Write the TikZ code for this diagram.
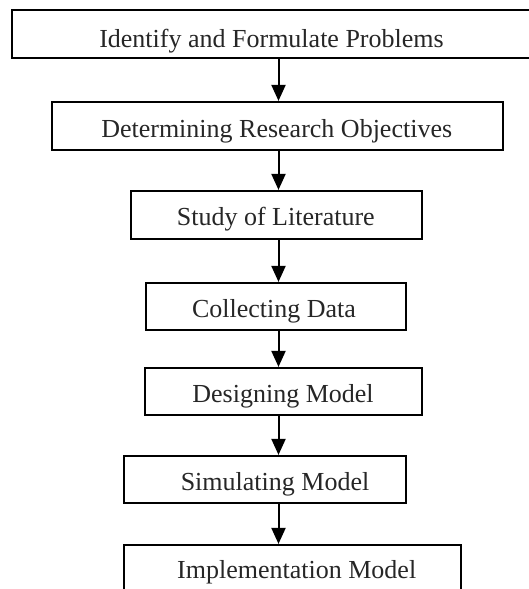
\documentclass[tikz,border=0pt]{standalone}
\usepackage{fontspec}
\setmainfont{Liberation Serif}
\usetikzlibrary{arrows.meta}
\begin{document}
\begin{tikzpicture}[x=1pt,y=-1pt,
  stepbox/.style={draw=black, line width=2.2pt, rectangle, inner sep=0pt},
  txt/.style={anchor=base, inner sep=0pt, font=\fontsize{26}{30}\selectfont, text=black!85},
  arr/.style={line width=2pt, -{Triangle[length=16pt,width=14pt]}}]
\useasboundingbox (0,0) rectangle (529,589);
% boxes: centre and size from left/top/right/bottom
\node[stepbox, minimum width=520pt, minimum height=48pt] (b1) at (272,34) {};
\node[stepbox, minimum width=451pt, minimum height=48pt] (b2) at (277.5,126) {};
\node[stepbox, minimum width=291pt, minimum height=48pt] (b3) at (276.5,215) {};
\node[stepbox, minimum width=260pt, minimum height=47pt] (b4) at (276,306.5) {};
\node[stepbox, minimum width=277pt, minimum height=47pt] (b5) at (283.5,391.5) {};
\node[stepbox, minimum width=282pt, minimum height=47pt] (b6) at (265,479.5) {};
\node[stepbox, minimum width=337pt, minimum height=60pt] (b7) at (292.5,575) {};
% texts
\node[txt] (t1) at (271.5,47) {Identify and Formulate Problems};
\node[txt] (t2) at (276.7,137) {Determining Research Objectives};
\node[txt] (t3) at (275.8,225) {Study of Literature};
\node[txt] (t4) at (274,317) {Collecting Data};
\node[txt] (t5) at (283,402) {Designing Model};
\node[txt] (t6) at (275,490) {Simulating Model};
\node[txt] (t7) at (296.7,578) {Implementation Model};
% arrows
\coordinate (ax) at (278.5,0);
\draw[arr] (b1.south -| ax) -- (b2.north -| ax);
\draw[arr] (b2.south -| ax) -- (b3.north -| ax);
\draw[arr] (b3.south -| ax) -- (b4.north -| ax);
\draw[arr] (b4.south -| ax) -- (b5.north -| ax);
\draw[arr] (b5.south -| ax) -- (b6.north -| ax);
\draw[arr] (b6.south -| ax) -- (b7.north -| ax);
\end{tikzpicture}
\end{document}
